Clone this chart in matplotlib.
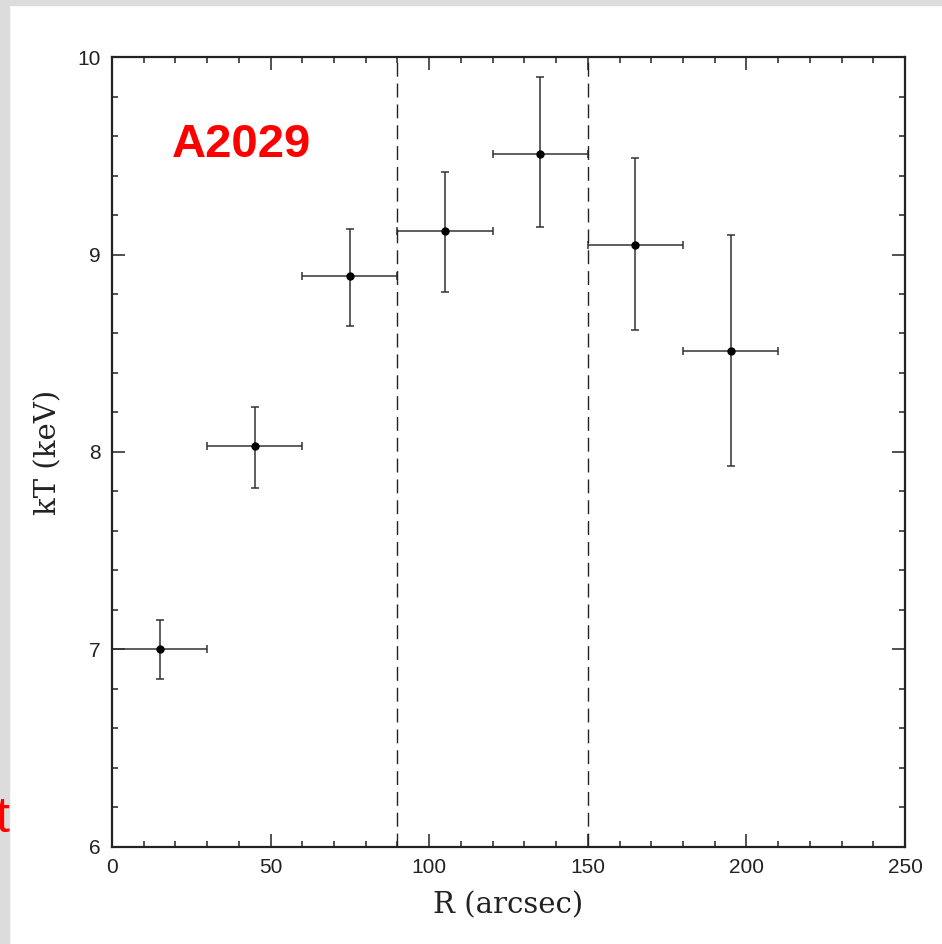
import matplotlib
matplotlib.use("Agg")
from matplotlib import pyplot as plt
from matplotlib.patches import Rectangle

# radial temperature profile
r_mid = [15, 45, 75, 105, 135, 165, 195]
r_halfwidth = [15, 15, 15, 15, 15, 15, 15]
kT = [7.00, 8.03, 8.89, 9.12, 9.51, 9.05, 8.51]
kT_lo = [0.15, 0.21, 0.25, 0.31, 0.37, 0.43, 0.58]
kT_hi = [0.15, 0.20, 0.24, 0.30, 0.39, 0.44, 0.59]
bounds = [90, 150]

fig = plt.figure(figsize=(9.42, 9.44), dpi=100)

# grey frame along the top and left edge
fig.patches.append(Rectangle((0, 0.9947), 1, 0.0053, transform=fig.transFigure,
                             color="#dcdcdc", zorder=0))
fig.patches.append(Rectangle((0, 0), 0.0096, 1, transform=fig.transFigure,
                             color="#dcdcdc", zorder=0))

ax = fig.add_axes([0.1189, 0.1028, 0.8418, 0.8368])

ax.errorbar(r_mid, kT, xerr=r_halfwidth, yerr=[kT_lo, kT_hi], fmt="o",
            color="black", ms=5, ecolor="#333333", elinewidth=1.1,
            capsize=2.8, capthick=1.1)

for b in bounds:
    ax.axvline(b, color="#222222", lw=1.0, dashes=(10, 5))

ax.set_xlim(0, 250)
ax.set_ylim(6, 10)
ax.set_xticks([0, 50, 100, 150, 200, 250])
ax.set_xticks(range(0, 251, 10), minor=True)
ax.set_yticks([6, 7, 8, 9, 10])
ax.set_yticks([6 + 0.2 * i for i in range(21)], minor=True)

ax.tick_params(which="both", direction="in", top=True, right=True,
               colors="#222222", width=1.1)
ax.tick_params(which="major", length=9.5, labelsize=15, pad=8)
ax.tick_params(which="minor", length=4.5)
for lab in ax.get_xticklabels() + ax.get_yticklabels():
    lab.set_fontfamily("Liberation Sans")
for s in ax.spines.values():
    s.set_linewidth(1.6)
    s.set_color("#222222")

ax.set_xlabel("R (arcsec)", fontfamily="DejaVu Serif", fontsize=21,
              color="#222222", labelpad=10)
ax.set_ylabel("kT (keV)", fontfamily="DejaVu Serif", fontsize=21,
              color="#222222", labelpad=11)

ax.text(0.076, 0.888, "A2029", transform=ax.transAxes, color="red",
        fontsize=34, fontweight="bold", fontfamily="Liberation Sans",
        va="center", ha="left")

fig.text(0.0096, 0.119, "t", color="red", fontsize=36,
         fontfamily="Liberation Sans", ha="right", va="baseline")

fig.savefig("out.png", dpi=100)
